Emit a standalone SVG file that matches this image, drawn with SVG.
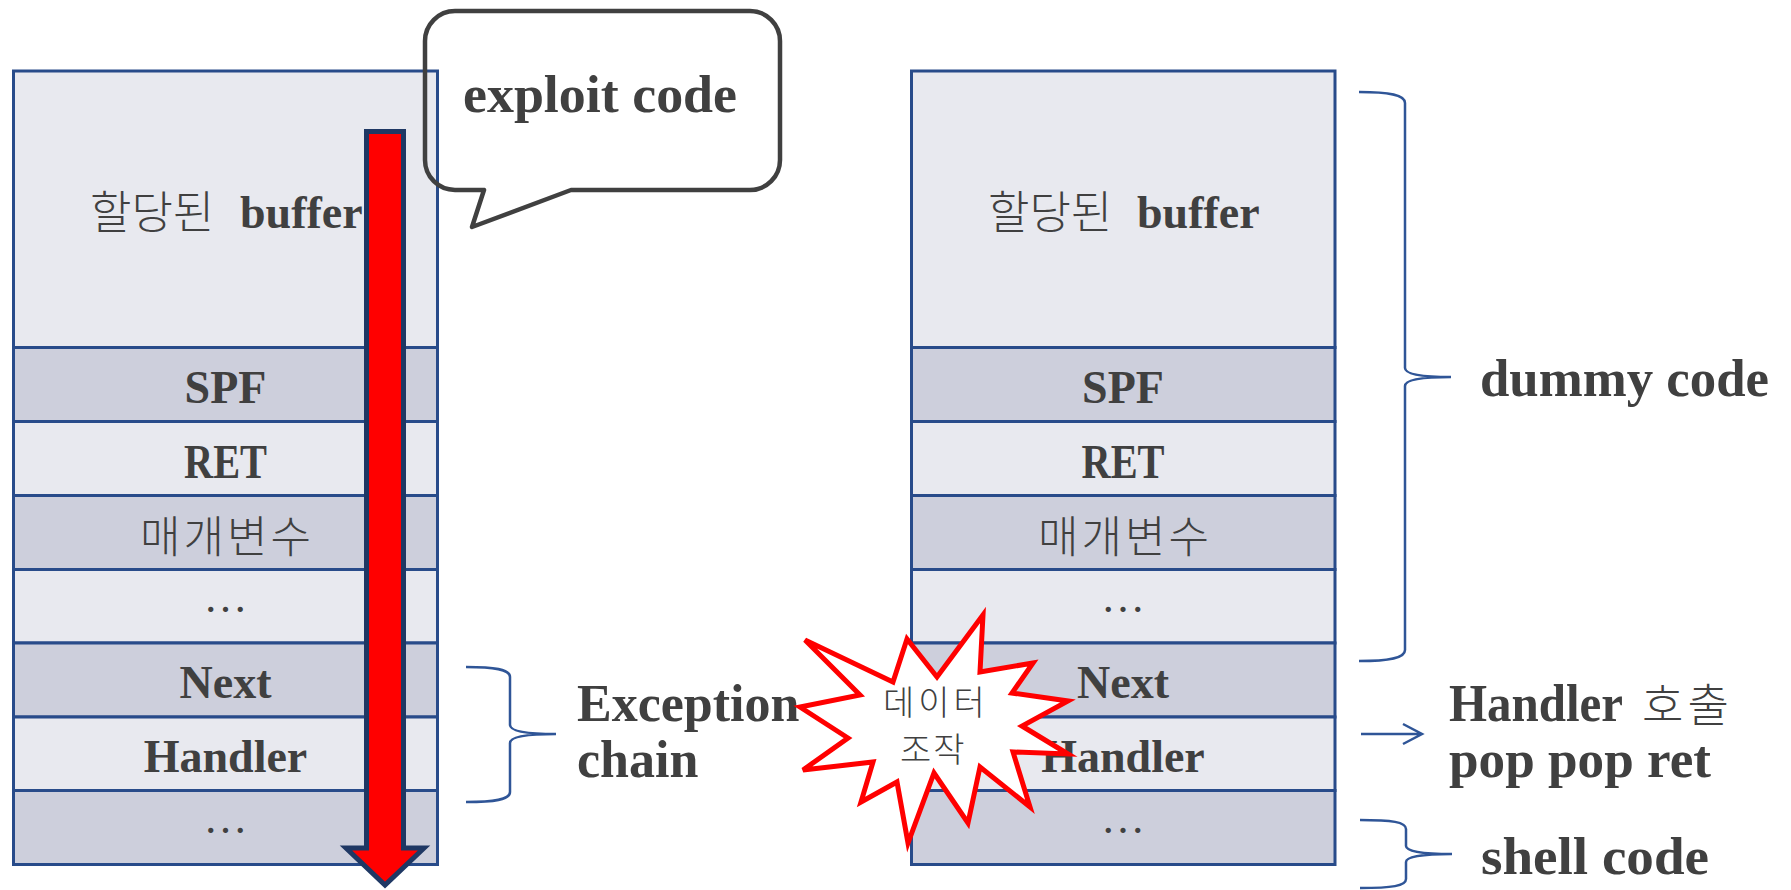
<svg xmlns="http://www.w3.org/2000/svg" width="1791" height="890" viewBox="0 0 1791 890">
  <style>
    .row { stroke: #284B8A; stroke-width: 3; }
    .lt { fill: #E8E9EF; }
    .dk { fill: #CDCFDC; }
    .en { font-family: "Liberation Serif", "Times New Roman", serif; font-weight: bold; fill: #404040; }
    .dots { font-family: "Liberation Serif", "Times New Roman", serif; font-size: 44px; fill: #404040; }
    .ko { font-family: "Noto Sans CJK KR", "Noto Sans", sans-serif; font-weight: 300; fill: #404040; }
    .lbl { font-size: 46px; }
    .big { font-size: 52px; }
    .brace { fill: none; stroke: #2F5597; stroke-width: 2.5; }
  </style>
  <rect width="1791" height="890" fill="#FFFFFF"/>

  <!-- left stack -->
  <g id="left-stack">
    <g id="l-buffer">
      <rect class="row lt" x="13.5" y="71" width="424" height="276.5"/>
      <text y="229"><tspan class="ko" x="90" font-size="45">할당된</tspan><tspan class="en lbl" x="240" y="228">buffer</tspan></text>
    </g>
    <g id="l-spf">
      <rect class="row dk" x="13.5" y="347.5" width="424" height="74"/>
      <text class="en lbl" x="225.5" y="403" text-anchor="middle">SPF</text>
    </g>
    <g id="l-ret">
      <rect class="row lt" x="13.5" y="421.5" width="424" height="74"/>
      <text class="en" x="184" y="478" font-size="48" textLength="83" lengthAdjust="spacingAndGlyphs">RET</text>
    </g>
    <g id="l-param">
      <rect class="row dk" x="13.5" y="495.5" width="424" height="74"/>
      <text class="ko" x="140" y="553" font-size="44" letter-spacing="3">매개변수</text>
    </g>
    <g id="l-gap1">
      <rect class="row lt" x="13.5" y="569.5" width="424" height="73.5"/>
      <text class="dots" x="225.5" y="612" text-anchor="middle">…</text>
    </g>
    <g id="l-next">
      <rect class="row dk" x="13.5" y="643" width="424" height="74"/>
      <text class="en lbl" x="225.5" y="698" text-anchor="middle">Next</text>
    </g>
    <g id="l-handler">
      <rect class="row lt" x="13.5" y="717" width="424" height="73.5"/>
      <text class="en lbl" x="225.5" y="772" text-anchor="middle">Handler</text>
    </g>
    <g id="l-gap2">
      <rect class="row dk" x="13.5" y="790.5" width="424" height="74"/>
      <text class="dots" x="225.5" y="833" text-anchor="middle">…</text>
    </g>
  </g>

  <!-- overflow arrow running down the left stack -->
  <g id="overflow-arrow">
    <polygon points="366.5,131.5 403.5,131.5 403.5,848 424,848 385,885 346,848 366.5,848" fill="#FF0000" stroke="#1F3864" stroke-width="5"/>
  </g>

  <!-- callout -->
  <g id="callout">
    <path d="M455,11 H750 A30,30 0 0 1 780,41 V160 A30,30 0 0 1 750,190 H571 L472,227 L484,190 H455 A30,30 0 0 1 425,160 V41 A30,30 0 0 1 455,11 Z" fill="none" stroke="#404040" stroke-width="4.5" stroke-linejoin="round"/>
    <text class="en" x="463" y="112" font-size="53" textLength="274" lengthAdjust="spacingAndGlyphs">exploit code</text>
  </g>

  <!-- right stack -->
  <g id="right-stack">
    <g id="r-buffer">
      <rect class="row lt" x="911.5" y="71" width="423.5" height="276.5"/>
      <text y="229"><tspan class="ko" x="988" font-size="45">할당된</tspan><tspan class="en lbl" x="1137" y="228">buffer</tspan></text>
    </g>
    <g id="r-spf">
      <rect class="row dk" x="911.5" y="347.5" width="423.5" height="74"/>
      <text class="en lbl" x="1123" y="403" text-anchor="middle">SPF</text>
    </g>
    <g id="r-ret">
      <rect class="row lt" x="911.5" y="421.5" width="423.5" height="74"/>
      <text class="en" x="1081.5" y="478" font-size="48" textLength="83" lengthAdjust="spacingAndGlyphs">RET</text>
    </g>
    <g id="r-param">
      <rect class="row dk" x="911.5" y="495.5" width="423.5" height="74"/>
      <text class="ko" x="1038" y="553" font-size="44" letter-spacing="3">매개변수</text>
    </g>
    <g id="r-gap1">
      <rect class="row lt" x="911.5" y="569.5" width="423.5" height="73.5"/>
      <text class="dots" x="1123" y="612" text-anchor="middle">…</text>
    </g>
    <g id="r-next">
      <rect class="row dk" x="911.5" y="643" width="423.5" height="74"/>
      <text class="en lbl" x="1123" y="698" text-anchor="middle">Next</text>
    </g>
    <g id="r-handler">
      <rect class="row lt" x="911.5" y="717" width="423.5" height="73.5"/>
      <text class="en lbl" x="1123" y="772" text-anchor="middle">Handler</text>
    </g>
    <g id="r-gap2">
      <rect class="row dk" x="911.5" y="790.5" width="423.5" height="74"/>
      <text class="dots" x="1123" y="833" text-anchor="middle">…</text>
    </g>
  </g>

  <!-- braces and pointer -->
  <g id="connectors">
    <path class="brace" d="M466,667 C494,667 510,669 510,677 L510,725 C510,731 526,734 556,734 C526,734 510,737 510,743 L510,792 C510,800 494,802 466,802"/>
    <path class="brace" d="M1359,92 C1390,92 1405,95 1405,103 L1405,368 C1405,374 1421,377 1451,377 C1421,377 1405,380 1405,386 L1405,650 C1405,658 1390,661 1359,661"/>
    <path class="brace" d="M1360,820 C1392,820 1406,822 1406,829 L1406,846 C1406,851 1421,854 1452,854 C1421,854 1406,857 1406,862 L1406,879 C1406,886 1392,888 1360,888"/>
    <path class="brace" d="M1361,734 H1421 M1403,724 L1422,734 L1403,744"/>
  </g>

  <!-- side labels -->
  <g id="label-exception">
    <text class="en big" x="577" y="721">Exception</text>
    <text class="en big" x="577" y="777">chain</text>
  </g>
  <g id="label-dummy">
    <text class="en big" x="1480" y="396" textLength="289" lengthAdjust="spacingAndGlyphs">dummy code</text>
  </g>
  <g id="label-handler">
    <text class="en big" x="1449" y="721" textLength="174" lengthAdjust="spacingAndGlyphs">Handler</text>
    <text class="ko" x="1642" y="722" font-size="45" letter-spacing="4">호출</text>
    <text class="en big" x="1449" y="777" textLength="262" lengthAdjust="spacingAndGlyphs">pop pop ret</text>
  </g>
  <g id="label-shell">
    <text class="en big" x="1481" y="874" textLength="228" lengthAdjust="spacingAndGlyphs">shell code</text>
  </g>

  <!-- burst marking the tampered record -->
  <g id="burst">
    <polygon points="805,640 893,682 907,639 937,677 983,615 980,672 1033,663 1012,693 1068,701 1022,726 1068,754 1013,752 1030,807 980,767 968,823 934,773 908,843 897,782 861,802 873,762 803,770 848,738 800,707 860,695" fill="#FFFFFF" stroke="#FF0000" stroke-width="5"/>
    <text class="ko" x="883" y="715" font-size="34" letter-spacing="4">데이터</text>
    <text class="ko" x="900" y="762" font-size="34" letter-spacing="2">조작</text>
  </g>
</svg>
